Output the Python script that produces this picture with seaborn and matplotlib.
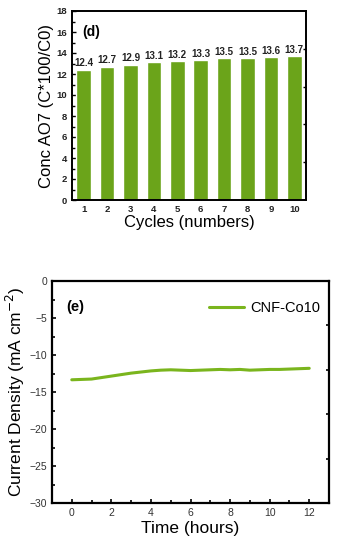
import matplotlib
matplotlib.use("Agg")
import matplotlib.pyplot as plt
import numpy as np
import pandas as pd
import seaborn as sns
from matplotlib.ticker import MultipleLocator

# ---------------------------------------------------------------------------
# Data
# ---------------------------------------------------------------------------
cycles = [1, 2, 3, 4, 5, 6, 7, 8, 9, 10]
conc_ao7 = [12.4, 12.7, 12.9, 13.1, 13.2, 13.3, 13.5, 13.5, 13.6, 13.7]

time_h = [0, 0.5, 1, 1.5, 2, 2.5, 3, 3.5, 4, 4.5, 5, 5.5, 6, 6.5, 7, 7.5,
          8, 8.5, 9, 9.5, 10, 10.5, 11, 11.5, 12]
current_density = [-13.35, -13.3, -13.25, -13.05, -12.85, -12.65, -12.45,
                   -12.3, -12.15, -12.05, -12.0, -12.05, -12.1, -12.05,
                   -12.0, -11.95, -12.0, -11.95, -12.05, -12.0, -11.95,
                   -11.95, -11.9, -11.85, -11.8]

BAR_COLOR = "#6ba41a"
LINE_COLOR = "#7ab51d"

sns.set_theme(style="ticks")
plt.rcParams["font.family"] = ["Liberation Sans", "DejaVu Sans"]
plt.rcParams.update({
    "text.color": "black", "axes.labelcolor": "black",
    "axes.edgecolor": "black", "xtick.color": "black", "ytick.color": "black",
})

fig = plt.figure(figsize=(3.38, 5.5), dpi=100)

# ---------------------------------------------------------------------------
# (d) bar chart
# ---------------------------------------------------------------------------
ax1 = fig.add_axes([72 / 338, 1 - 200 / 550, 234 / 338, 189 / 550])
df_bar = pd.DataFrame({"cycle": cycles, "conc": conc_ao7})
sns.barplot(data=df_bar, x="cycle", y="conc", native_scale=True,
            color=BAR_COLOR, saturation=1, width=0.62, ax=ax1)
ax1.bar_label(ax1.containers[0], fmt="%.1f", fontsize=7,
              fontweight="bold", padding=1, color="#222222")
ax1.set_xlim(0.5, 10.5)
ax1.set_ylim(0, 18)
ax1.set_xticks(cycles)
ax1.yaxis.set_major_locator(MultipleLocator(2))
ax1.yaxis.set_minor_locator(MultipleLocator(1))
ax1.tick_params(axis="both", which="both", direction="in",
                labelsize=6.8, width=1.0, labelcolor="#222222")
ax1.tick_params(which="major", length=3)
ax1.tick_params(which="minor", length=1.8)
for lab in ax1.get_xticklabels() + ax1.get_yticklabels():
    lab.set_fontweight("bold")
ax1.set_xlabel("Cycles (numbers)", fontsize=12, labelpad=1)
ax1.set_ylabel("Conc AO7 (C*100/C0)", fontsize=12, labelpad=2)
ax1.text(0.045, 0.925, "(d)", transform=ax1.transAxes, fontsize=10,
         fontweight="bold", va="top")
for sp in ax1.spines.values():
    sp.set_visible(True)
    sp.set_linewidth(1.2)
tw1 = ax1.twinx()
tw1.set_ylim(0, 5)
tw1.set_yticks([1, 2, 3, 4])
tw1.set_yticklabels([])
tw1.tick_params(direction="in", length=2.5, width=1.0)

# ---------------------------------------------------------------------------
# (e) chronoamperometry
# ---------------------------------------------------------------------------
ax2 = fig.add_axes([52 / 338, 1 - 503 / 550, 277 / 338, 222 / 550])
df_line = pd.DataFrame({"time": time_h, "j": current_density})
sns.lineplot(data=df_line, x="time", y="j", color=LINE_COLOR, lw=2.2,
             label="CNF-Co10", ax=ax2)
ax2.set_xlim(-1, 13)
ax2.set_ylim(-30, 0)
ax2.xaxis.set_major_locator(MultipleLocator(2))
ax2.xaxis.set_minor_locator(MultipleLocator(1))
ax2.yaxis.set_major_locator(MultipleLocator(5))
ax2.yaxis.set_minor_locator(MultipleLocator(2.5))
ax2.tick_params(axis="both", which="both", direction="in",
                labelsize=7.5, width=1.2, labelcolor="#333333")
ax2.tick_params(which="major", length=3)
ax2.tick_params(which="minor", length=2)
ax2.set_xlabel("Time (hours)", fontsize=12.5, labelpad=2)
ax2.set_ylabel("Current Density (mA cm$^{-2}$)", fontsize=12.5, labelpad=2)
ax2.text(0.05, 0.915, "(e)", transform=ax2.transAxes, fontsize=10.5,
         fontweight="bold", va="top")
ax2.legend(loc="upper right", frameon=False, fontsize=10.5,
           handlelength=2.4, handletextpad=0.4, borderaxespad=0.2,
           bbox_to_anchor=(1.0, 0.95))
for sp in ax2.spines.values():
    sp.set_visible(True)
    sp.set_linewidth(1.6)
tw2 = ax2.twinx()
tw2.set_ylim(0, 5)
tw2.set_yticks([1, 2, 3, 4])
tw2.set_yticklabels([])
tw2.tick_params(direction="in", length=2.5, width=1.2)

fig.savefig("out.png", dpi=100)
